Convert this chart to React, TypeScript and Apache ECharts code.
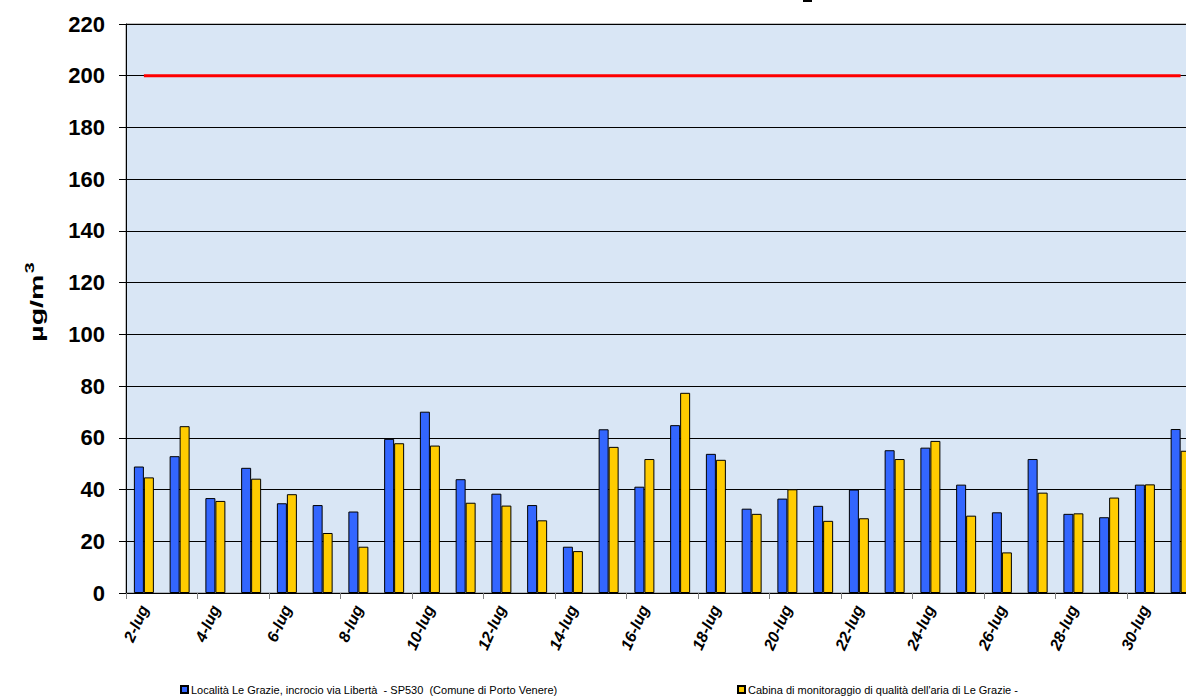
import React, { useEffect, useRef } from "react";
import * as echarts from "echarts";

const categories = [
  "2-lug", "3-lug", "4-lug", "5-lug", "6-lug", "7-lug", "8-lug", "9-lug", "10-lug", "11-lug",
  "12-lug", "13-lug", "14-lug", "15-lug", "16-lug", "17-lug", "18-lug", "19-lug", "20-lug", "21-lug",
  "22-lug", "23-lug", "24-lug", "25-lug", "26-lug", "27-lug", "28-lug", "29-lug", "30-lug", "31-lug",
];

const seriesNameA = "Località Le Grazie, incrocio via Libertà  - SP530  (Comune di Porto Venere)";
const seriesNameB = "Cabina di monitoraggio di qualità dell'aria di Le Grazie -";
const yAxisTitle = "µg/m{sup|3}";

const valuesA = [
  48.9, 52.9, 36.7, 48.4, 34.7, 34.0, 31.5, 59.6, 70.1, 44.0,
  38.4, 34.0, 17.9, 63.3, 41.1, 64.9, 53.8, 32.6, 36.5, 33.7,
  40.0, 55.2, 56.2, 41.9, 31.2, 51.8, 30.6, 29.3, 41.9, 63.4,
];
const valuesB = [
  44.7, 64.5, 35.6, 44.2, 38.2, 23.2, 17.9, 57.9, 57.0, 34.9,
  33.8, 28.1, 16.2, 56.5, 51.8, 77.4, 51.5, 30.6, 40.1, 27.9,
  28.9, 51.8, 58.8, 29.9, 15.7, 38.8, 30.8, 36.9, 42.0, 55.0,
];
const limitValue = 200;
const limitValues = categories.map(() => limitValue);

const yMin = 0;
const yMax = 220;
const yInterval = 20;

export default function App() {
  const ref = useRef<HTMLDivElement>(null);
  useEffect(() => {
    if (!ref.current) return;
    const chart = echarts.init(ref.current, null, { renderer: "svg" });
    const legendCommon = {
      top: 684,
      itemWidth: 7,
      itemHeight: 7,
      itemGap: 0,
      padding: 0,
      icon: "rect",
      textStyle: { fontSize: 11, color: "#000", padding: [0, 0, 0, -2] },
    };
    chart.setOption({
      animation: false,
      backgroundColor: "#ffffff",
      textStyle: { fontFamily: "Arial, 'Liberation Sans', sans-serif" },
      grid: {
        left: 126,
        top: 24,
        width: 1072.5,
        height: 569,
        outerBoundsMode: "none",
        containLabel: false,
        show: true,
        backgroundColor: "#d9e6f5",
        borderColor: "#808080",
        borderWidth: 1,
      },
      legend: [
        { ...legendCommon, data: [seriesNameA], left: 180 },
        { ...legendCommon, data: [seriesNameB], left: 737 },
      ],
      xAxis: {
        type: "category",
        data: categories,
        boundaryGap: true,
        axisLine: { lineStyle: { color: "#000", width: 1 } },
        axisTick: { show: true, interval: 1, length: 6, lineStyle: { color: "#808080" } },
        axisLabel: {
          interval: 1,
          rotate: 66,
          margin: 13,
          fontSize: 16,
          fontWeight: "bold",
          fontStyle: "italic",
          color: "#000",
        },
      },
      yAxis: {
        type: "value",
        min: yMin,
        max: yMax,
        interval: yInterval,
        axisLine: { show: true, lineStyle: { color: "#000", width: 1 } },
        axisTick: { show: true, length: 7, lineStyle: { color: "#000" } },
        axisLabel: { fontSize: 22, fontWeight: "bold", color: "#000", margin: 21 },
        splitLine: { show: true, lineStyle: { color: "#000", width: 1 } },
      },
      graphic: [
        { type: "rect", shape: { x: 803, y: 0, width: 9, height: 2 }, style: { fill: "#000" } },
        {
          type: "text",
          x: 36,
          y: 302,
          rotation: Math.PI / 2,
          scaleX: 1.5,
          style: {
            text: yAxisTitle,
            font: "bold 19px Arial, 'Liberation Sans', sans-serif",
            fill: "#000",
            align: "center",
            verticalAlign: "middle",
            rich: {
              sup: {
                font: "bold 13px Arial, 'Liberation Sans', sans-serif",
                fill: "#000",
                verticalAlign: "top",
                padding: [0, 0, 12, 1],
              },
            },
          },
        },
      ],
      series: [
        {
          name: seriesNameA,
          type: "bar",
          data: valuesA,
          barWidth: 10,
          barGap: "0%",
          itemStyle: { color: "#3366FF", borderColor: "#000", borderWidth: 1 },
        },
        {
          name: seriesNameB,
          type: "bar",
          data: valuesB,
          barWidth: 10,
          barGap: "0%",
          itemStyle: { color: "#FFCC00", borderColor: "#000", borderWidth: 1 },
        },
        {
          name: "limite",
          type: "line",
          data: limitValues,
          symbol: "none",
          lineStyle: { color: "#FF0000", width: 3 },
          z: 5,
        },
      ],
    });
    return () => chart.dispose();
  }, []);
  return (
    <div
      ref={ref}
      style={{ position: "absolute", left: 0, top: 0, width: 1186, height: 698, overflow: "hidden" }}
    />
  );
}
